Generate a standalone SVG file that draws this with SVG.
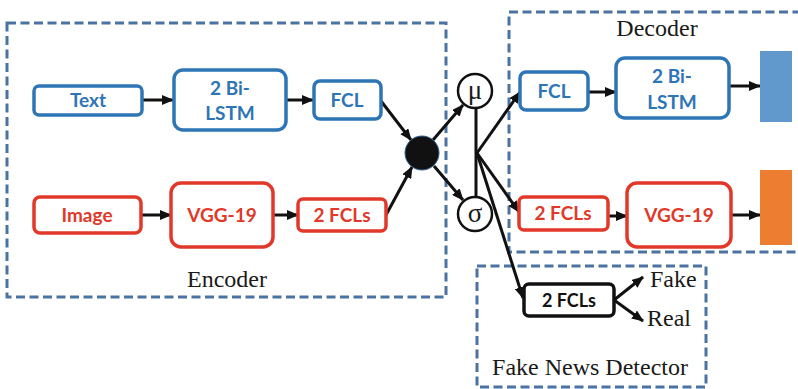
<svg xmlns="http://www.w3.org/2000/svg" width="798" height="389" viewBox="0 0 798 389">
<defs>
<style>
.grp{fill:none;stroke:#4a73a1;stroke-width:3;stroke-dasharray:9,4.5}
.bb{fill:#fff;stroke:#2e75b6;stroke-width:3.5}
.rb{fill:#fff;stroke:#e2382a;stroke-width:3.5}
.kb{fill:#fff;stroke:#111;stroke-width:3.5}
.bt{font-family:Lato,"Open Sans",sans-serif;font-weight:bold;font-size:19px;text-anchor:middle;fill:#2e75b6}
.rt{font-family:Lato,"Open Sans",sans-serif;font-weight:bold;font-size:19px;text-anchor:middle;fill:#e2382a}
.kt{font-family:Lato,"Open Sans",sans-serif;font-weight:bold;font-size:18px;text-anchor:middle;fill:#111}
.lab{font-family:"Liberation Serif",serif;font-size:24px;fill:#1a1a1a}
.sym{font-family:"Liberation Serif",serif;font-size:27px;fill:#1a1a1a;text-anchor:middle}
.con{fill:none;stroke:#111;stroke-width:3}
.arr{fill:none;stroke:#111;stroke-width:3;marker-end:url(#ah)}
</style>
<marker id="ah" markerUnits="userSpaceOnUse" markerWidth="12" markerHeight="10" refX="11" refY="5" orient="auto">
<path d="M0,0 L12,5 L0,10 Z" fill="#111"/>
</marker>
</defs>

<g id="encoder">
<rect class="grp" x="7" y="23" width="439" height="274"/>
<text class="lab" x="227" y="287" text-anchor="middle">Encoder</text>
</g>
<g id="decoder">
<rect class="grp" x="509" y="12" width="300" height="240"/>
<text class="lab" x="657" y="36" text-anchor="middle">Decoder</text>
</g>
<g id="detector">
<rect class="grp" x="477" y="266" width="229" height="121"/>
<text class="lab" x="590" y="375" text-anchor="middle">Fake News Detector</text>
</g>

<g id="connectors">
<line class="arr" x1="142" y1="100" x2="173" y2="100"/>
<line class="arr" x1="286" y1="100" x2="313" y2="100"/>
<line class="arr" x1="381" y1="101" x2="411" y2="140"/>
<line class="arr" x1="141" y1="215" x2="171" y2="215"/>
<line class="arr" x1="273" y1="215" x2="298" y2="215"/>
<line class="arr" x1="386" y1="215" x2="412" y2="167"/>
<line class="arr" x1="433" y1="140" x2="463" y2="105"/>
<line class="arr" x1="434" y1="166" x2="463" y2="200"/>
<line class="con" x1="476" y1="108" x2="476" y2="197"/>
<line class="arr" x1="477" y1="153" x2="520" y2="92"/>
<line class="arr" x1="477" y1="153" x2="519" y2="212"/>
<line class="arr" x1="477" y1="153" x2="523" y2="298"/>
<line class="arr" x1="588" y1="92" x2="616" y2="92"/>
<line class="arr" x1="729" y1="86" x2="760" y2="86"/>
<line class="arr" x1="608" y1="216" x2="627" y2="216"/>
<line class="arr" x1="731" y1="215" x2="760" y2="215"/>
<line class="arr" x1="614" y1="300" x2="643" y2="277"/>
<line class="arr" x1="614" y1="300" x2="643" y2="321"/>
</g>

<g id="text-in">
<rect class="bb" x="34" y="86" width="108" height="29" rx="5"/>
<text class="bt" x="88" y="107">Text</text>
</g>
<g id="enc-bilstm">
<rect class="bb" x="174" y="70" width="112" height="60" rx="9"/>
<text class="bt" x="230" y="95">2 Bi-</text>
<text class="bt" x="230" y="120">LSTM</text>
</g>
<g id="enc-fcl">
<rect class="bb" x="314" y="81" width="67" height="38" rx="6"/>
<text class="bt" x="347" y="107">FCL</text>
</g>
<g id="image-in">
<rect class="rb" x="34" y="197" width="107" height="36" rx="6"/>
<text class="rt" x="87" y="222">Image</text>
</g>
<g id="enc-vgg">
<rect class="rb" x="171" y="183" width="102" height="64" rx="10"/>
<text class="rt" x="222" y="222">VGG-19</text>
</g>
<g id="enc-fcls">
<rect class="rb" x="298" y="199" width="88" height="32" rx="5"/>
<text class="rt" x="342" y="222">2 FCLs</text>
</g>
<g id="fusion">
<circle cx="422" cy="153" r="17" fill="#111" stroke="#2e5f8f" stroke-width="1"/>
</g>
<g id="mu">
<circle cx="475" cy="91" r="17" fill="#fff" stroke="#111" stroke-width="2.5"/>
<text class="sym" x="475" y="99">μ</text>
</g>
<g id="sigma">
<circle cx="475" cy="214" r="17" fill="#fff" stroke="#111" stroke-width="2.5"/>
<text class="sym" x="475" y="222">σ</text>
</g>
<g id="dec-fcl">
<rect class="bb" x="520" y="72" width="68" height="38" rx="6"/>
<text class="bt" x="554" y="98">FCL</text>
</g>
<g id="dec-bilstm">
<rect class="bb" x="616" y="58" width="113" height="60" rx="9"/>
<text class="bt" x="672" y="83">2 Bi-</text>
<text class="bt" x="672" y="109">LSTM</text>
</g>
<g id="text-out">
<rect x="760" y="51" width="32" height="71" fill="#6199cc"/>
</g>
<g id="dec-fcls">
<rect class="rb" x="519" y="197" width="89" height="33" rx="5"/>
<text class="rt" x="563" y="220">2 FCLs</text>
</g>
<g id="dec-vgg">
<rect class="rb" x="627" y="183" width="104" height="64" rx="10"/>
<text class="rt" x="679" y="222">VGG-19</text>
</g>
<g id="image-out">
<rect x="760" y="170" width="32" height="75" fill="#ed7d31"/>
</g>
<g id="det-fcls">
<rect class="kb" x="524" y="284" width="90" height="32" rx="5"/>
<text class="kt" x="569" y="307">2 FCLs</text>
</g>
<g id="fake">
<text class="lab" x="650" y="287">Fake</text>
</g>
<g id="real">
<text class="lab" x="647" y="326">Real</text>
</g>
</svg>
